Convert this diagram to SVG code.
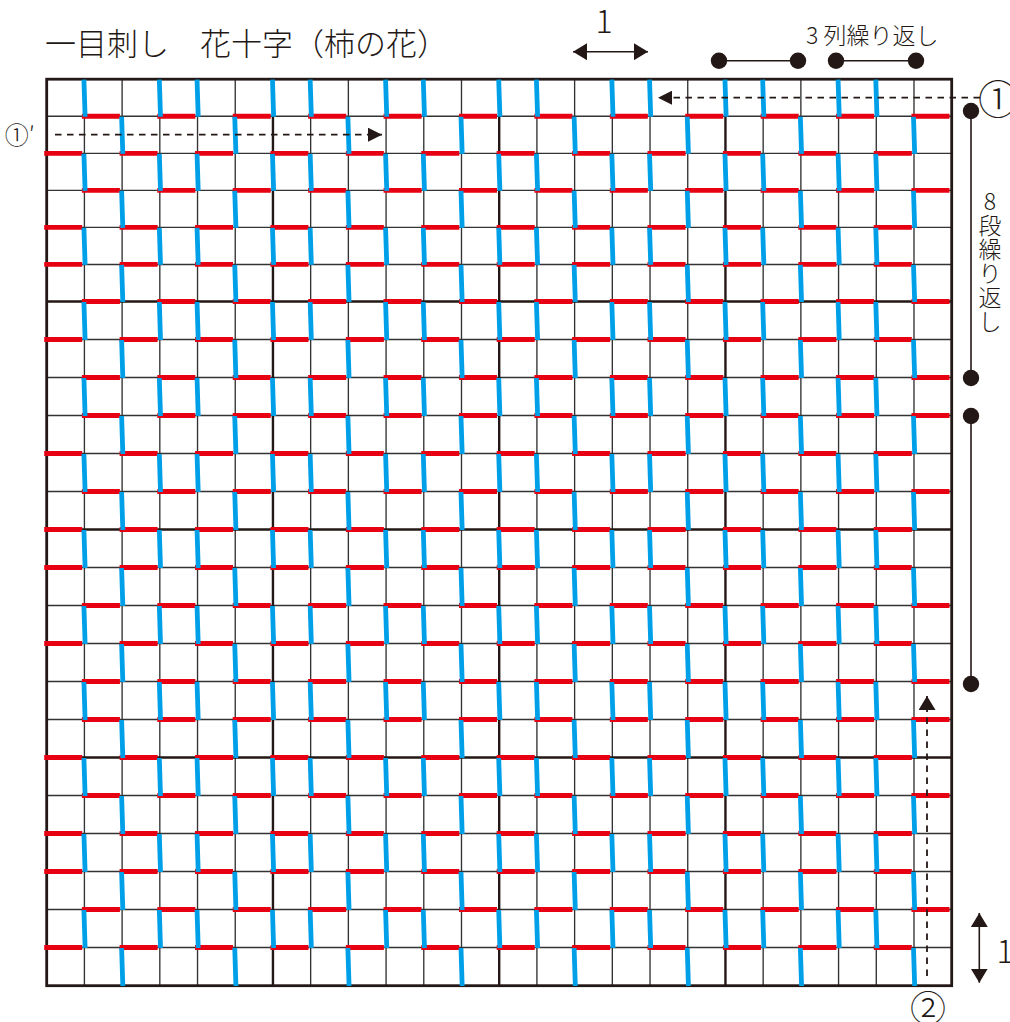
<svg xmlns="http://www.w3.org/2000/svg" xmlns:xlink="http://www.w3.org/1999/xlink" width="1010" height="1022" viewBox="0 0 1010 1022">
<style>
text{font-family:"Noto Sans CJK JP","Noto Sans",sans-serif;font-weight:300;fill:#231815}
.thin{stroke:#333;stroke-width:1.35;fill:none}
.thick{stroke:#231815;stroke-width:2.4;fill:none}
.border{stroke:#231815;stroke-width:2.8;fill:none}
.red{stroke:#e60012;stroke-width:4.8;fill:none}
.blue{stroke:#00a0e9;stroke-width:4.8;fill:none}
.dash{stroke:#231815;stroke-width:1.8;stroke-dasharray:6.5 5.5;fill:none}
.solid{stroke:#231815;stroke-width:1.6;fill:none}
.dot{fill:#231815}
</style>
<defs>
<marker id="ah" markerUnits="userSpaceOnUse" viewBox="0 0 14 14" refX="14" refY="7" markerWidth="14" markerHeight="14" orient="auto-start-reverse"><path d="M0 0L14 7L0 14Z" fill="#231815"/></marker>
<marker id="ah2" markerUnits="userSpaceOnUse" viewBox="0 0 14 17" refX="14" refY="8.5" markerWidth="14" markerHeight="17" orient="auto-start-reverse"><path d="M0 0L14 8.5L0 17Z" fill="#231815"/></marker>
<path id="r" d="M44.2 0h38m37.4167 0h38m37.4167 0h38m37.4167 0h38m37.4167 0h38m37.4167 0h38m37.4167 0h38m37.4167 0h38m37.4167 0h38m37.4167 0h38m37.4167 0h38m37.4167 0h38"/>
<path id="bA" d="M0 79.7l1.2 37.05m-1.2 37.05l1.2 37.05m-1.2 37.05l1.2 37.05m-1.2 37.05l1.2 38m-1.2 38l1.2 38m-1.2 38l1.2 38m-1.2 38l1.2 38m-1.2 38l1.2 38m-1.2 38l1.2 38m-1.2 38l1.2 38m-1.2 38l1.2 38m-1.2 38l1.2 38"/>
<path id="bB" d="M0 116.75l1.2 37.05m-1.2 37.05l1.2 37.05m-1.2 37.05l1.2 37.05m-1.2 38l1.2 38m-1.2 38l1.2 38m-1.2 38l1.2 38m-1.2 38l1.2 38m-1.2 38l1.2 38m-1.2 38l1.2 38m-1.2 38l1.2 38m-1.2 38l1.2 38m-1.2 38l1.2 38"/>
</defs>
<rect width="1010" height="1022" fill="#fff"/>

<g id="title"><text x="45" y="55" font-size="31">一目刺し　花十字（柿の花）</text></g>

<g id="grid">
<path class="thin" d="M84.41 79.2V985.7M122.12 79.2V985.7M159.82 79.2V985.7M197.53 79.2V985.7M235.24 79.2V985.7M310.66 79.2V985.7M348.37 79.2V985.7M386.07 79.2V985.7M423.78 79.2V985.7M461.49 79.2V985.7M536.91 79.2V985.7M574.62 79.2V985.7M612.32 79.2V985.7M650.03 79.2V985.7M687.74 79.2V985.7M763.16 79.2V985.7M800.87 79.2V985.7M838.57 79.2V985.7M876.28 79.2V985.7M913.99 79.2V985.7"/>
<path class="thin" d="M46.7 116.25H951.7M46.7 153.3H951.7M46.7 190.35H951.7M46.7 227.4H951.7M46.7 264.45H951.7M46.7 339.5H951.7M46.7 377.5H951.7M46.7 415.5H951.7M46.7 453.5H951.7M46.7 491.5H951.7M46.7 567.5H951.7M46.7 605.5H951.7M46.7 643.5H951.7M46.7 681.5H951.7M46.7 719.5H951.7M46.7 795.5H951.7M46.7 833.5H951.7M46.7 871.5H951.7M46.7 909.5H951.7M46.7 947.5H951.7"/>
<path class="thick" d="M272.95 79.2V985.7M499.2 79.2V985.7M725.45 79.2V985.7M46.7 301.5H951.7M46.7 529.5H951.7M46.7 757.5H951.7"/>
<rect class="border" x="46.7" y="79.2" width="905" height="906.5"/>
</g>

<g id="stitches-red" class="red">
<use xlink:href="#r" x="37.708" y="116.25"/>
<use xlink:href="#r" x="0" y="153.3"/>
<use xlink:href="#r" x="37.708" y="190.35"/>
<use xlink:href="#r" x="0" y="227.4"/>
<use xlink:href="#r" x="0" y="264.45"/>
<use xlink:href="#r" x="37.708" y="301.5"/>
<use xlink:href="#r" x="0" y="339.5"/>
<use xlink:href="#r" x="37.708" y="377.5"/>
<use xlink:href="#r" x="37.708" y="415.5"/>
<use xlink:href="#r" x="0" y="453.5"/>
<use xlink:href="#r" x="37.708" y="491.5"/>
<use xlink:href="#r" x="0" y="529.5"/>
<use xlink:href="#r" x="0" y="567.5"/>
<use xlink:href="#r" x="37.708" y="605.5"/>
<use xlink:href="#r" x="0" y="643.5"/>
<use xlink:href="#r" x="37.708" y="681.5"/>
<use xlink:href="#r" x="37.708" y="719.5"/>
<use xlink:href="#r" x="0" y="757.5"/>
<use xlink:href="#r" x="37.708" y="795.5"/>
<use xlink:href="#r" x="0" y="833.5"/>
<use xlink:href="#r" x="0" y="871.5"/>
<use xlink:href="#r" x="37.708" y="909.5"/>
<use xlink:href="#r" x="0" y="947.5"/>
</g>

<g id="stitches-blue" class="blue">
<use xlink:href="#bA" x="83.91"/>
<use xlink:href="#bA" x="159.32"/>
<use xlink:href="#bA" x="197.03"/>
<use xlink:href="#bA" x="272.45"/>
<use xlink:href="#bA" x="310.16"/>
<use xlink:href="#bA" x="385.57"/>
<use xlink:href="#bA" x="423.28"/>
<use xlink:href="#bA" x="498.7"/>
<use xlink:href="#bA" x="536.41"/>
<use xlink:href="#bA" x="611.82"/>
<use xlink:href="#bA" x="649.53"/>
<use xlink:href="#bA" x="724.95"/>
<use xlink:href="#bA" x="762.66"/>
<use xlink:href="#bA" x="838.07"/>
<use xlink:href="#bA" x="875.78"/>
<use xlink:href="#bB" x="121.62"/>
<use xlink:href="#bB" x="234.74"/>
<use xlink:href="#bB" x="347.87"/>
<use xlink:href="#bB" x="460.99"/>
<use xlink:href="#bB" x="574.12"/>
<use xlink:href="#bB" x="687.24"/>
<use xlink:href="#bB" x="800.37"/>
<use xlink:href="#bB" x="913.49"/>
</g>

<g id="connectors">
<line class="dash" x1="980" y1="97.7" x2="658" y2="97.7" marker-end="url(#ah)"/>
<line class="dash" x1="55" y1="134.7" x2="382" y2="134.7" marker-end="url(#ah)"/>
<line class="dash" x1="927" y1="976" x2="927" y2="696" marker-end="url(#ah2)"/>
<line class="solid" x1="573" y1="51.7" x2="648" y2="51.7" marker-start="url(#ah2)" marker-end="url(#ah2)"/>
<line class="solid" x1="979.3" y1="913" x2="979.3" y2="982.7" marker-start="url(#ah2)" marker-end="url(#ah2)"/>
</g>

<g id="legend-columns">
<line class="solid" x1="719" y1="60.7" x2="798" y2="60.7"/>
<line class="solid" x1="836" y1="60.7" x2="916" y2="60.7"/>
<circle class="dot" cx="719" cy="60.7" r="8.2"/>
<circle class="dot" cx="798" cy="60.7" r="8.2"/>
<circle class="dot" cx="836" cy="60.7" r="8.2"/>
<circle class="dot" cx="916" cy="60.7" r="8.2"/>
<text x="806" y="44" font-size="23">3 列繰り返し</text>
</g>

<g id="legend-rows">
<line class="solid" x1="971" y1="111" x2="971" y2="378"/>
<line class="solid" x1="971" y1="416" x2="971" y2="684"/>
<circle class="dot" cx="971" cy="111" r="8.2"/>
<circle class="dot" cx="971" cy="378" r="8.2"/>
<circle class="dot" cx="971" cy="416" r="8.2"/>
<circle class="dot" cx="971" cy="684" r="8.2"/>
<text font-size="23" text-anchor="middle"><tspan x="990" y="209.5">8</tspan><tspan x="990" y="233.7">段</tspan><tspan x="990" y="257.7">繰</tspan><tspan x="990" y="281.7">り</tspan><tspan x="990" y="305.7">返</tspan><tspan x="990" y="329.7">し</tspan></text>
</g>

<g id="labels">
<text x="604" y="33" font-size="32" text-anchor="middle">1</text>
<text x="1005" y="963" font-size="32" text-anchor="middle">1</text>
<text x="998" y="114" font-size="40" text-anchor="middle">①</text>
<text x="4.8" y="144" font-size="24">①′</text>
<text x="928" y="1022" font-size="36" text-anchor="middle">②</text>
</g>
</svg>
